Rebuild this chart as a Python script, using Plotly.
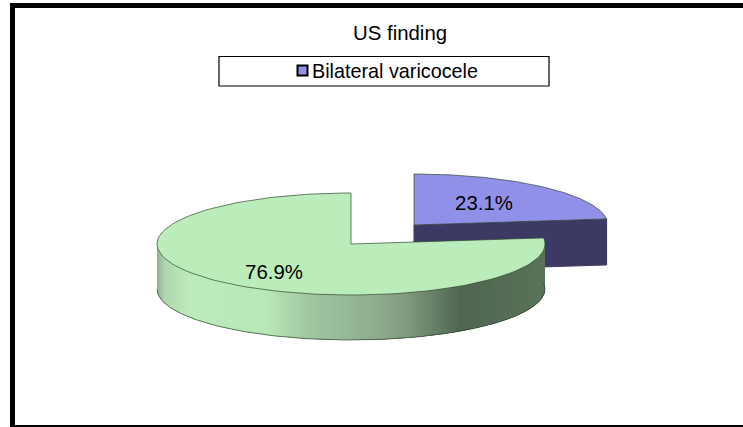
import math
import plotly.graph_objects as go

# ---- data ----
title_text = "US finding"
legend_label = "Bilateral varicocele"
slice_names = ["Bilateral varicocele", "Other"]
slice_values = [23.1, 76.9]
slice_labels = ["23.1%", "76.9%"]

# ---- style ----
BLUE_TOP, BLUE_SIDE = "#9090e8", "#3c3a64"
GREEN_TOP = "#bbedbb"
EDGE = "rgba(50,70,50,0.7)"
FONT = "Liberation Sans"
RX, RY, DEPTH = 194, 51, 45
GREEN_C = (351, 244)
BLUE_C = (414, 225)
# horizontal gradient for the rim of the large slice: (x, colour)
RIM_STOPS = [(157, (150, 175, 150)), (165, (176, 214, 176)), (190, (188, 236, 188)),
             (267, (184, 232, 184)), (307, (160, 200, 160)), (373, (143, 174, 143)),
             (407, (127, 154, 127)), (460, (79, 102, 80)), (545, (90, 115, 90))]


def rim_colour(x):
    for (x0, c0), (x1, c1) in zip(RIM_STOPS, RIM_STOPS[1:]):
        if x <= x1:
            t = max(0.0, (x - x0) / (x1 - x0))
            return "rgb(%d,%d,%d)" % tuple(round(a + (b - a) * t) for a, b in zip(c0, c1))
    return "rgb(%d,%d,%d)" % RIM_STOPS[-1][1]


def point(c, deg, dy=0):
    a = math.radians(deg)
    return c[0] + RX * math.sin(a), c[1] - RY * math.cos(a) + dy


def sector(c, d0, d1, n=120):
    pts = [c] + [point(c, d0 + (d1 - d0) * i / n) for i in range(n + 1)] + [c]
    return [p[0] for p in pts], [p[1] for p in pts]


def poly(xs, ys, fill, line=None, width=1):
    return go.Scatter(x=xs, y=ys, mode="lines", fill="toself", fillcolor=fill,
                      line=dict(color=line or fill, width=width),
                      hoverinfo="skip", showlegend=False)


split = slice_values[0] / sum(slice_values) * 360
fig = go.Figure()

# exploded slice: cut face, then top
p = point(BLUE_C, split)
fig.add_trace(poly([BLUE_C[0], p[0], p[0], BLUE_C[0], BLUE_C[0]],
                   [BLUE_C[1], p[1], p[1] + DEPTH + 1, BLUE_C[1] + DEPTH + 1, BLUE_C[1]], BLUE_SIDE))
xs, ys = sector(BLUE_C, 0, split)
fig.add_trace(poly(xs, ys, BLUE_TOP, EDGE))

# large slice: rim bands painted from left to right, each overlapping the
# area the next band covers so that anti-aliased joins never show through
steps = 220
start = split
end = 270.0
for i in range(steps):
    a0 = end - (end - start) * i / steps
    a1 = end - (end - start) * (i + 1) / steps
    ax = max(start, end - (end - start) * (i + 6) / steps)
    arc_pts = [point(GREEN_C, a0 + (ax - a0) * k / 6) for k in range(7)]
    rx = [q[0] for q in arc_pts]
    ry = [q[1] for q in arc_pts]
    fig.add_trace(poly(rx + rx[::-1] + rx[:1],
                       ry + [v + DEPTH for v in ry[::-1]] + ry[:1],
                       rim_colour(point(GREEN_C, (a0 + a1) / 2)[0]), width=0))
# rim outline
arc = [point(GREEN_C, start + (end - start) * i / 200, DEPTH) for i in range(201)]
fig.add_trace(go.Scatter(x=[q[0] for q in arc], y=[q[1] for q in arc], mode="lines",
                         line=dict(color=EDGE, width=1), hoverinfo="skip", showlegend=False))
xs, ys = sector(GREEN_C, split, 360)
fig.add_trace(poly(xs, ys, GREEN_TOP, EDGE))

# percentage labels
fig.add_trace(go.Scatter(x=[484, 274], y=[205, 274], mode="text", text=slice_labels,
                         textfont=dict(family=FONT, size=20.4, color="black"),
                         textposition="middle center", hoverinfo="skip", showlegend=False))

# legend swatch
fig.add_trace(go.Scatter(x=[302.5], y=[70.5], mode="markers",
                         marker=dict(symbol="square", size=10, color=BLUE_TOP,
                                     line=dict(color="black", width=2)),
                         name=legend_label, hoverinfo="skip", showlegend=False))


def bar(x0, y0, x1, y1):
    return dict(type="rect", xref="x", yref="y", x0=x0, y0=y0, x1=x1, y1=y1,
                fillcolor="black", line=dict(width=0), layer="above")


fig.update_layout(
    width=743, height=427, margin=dict(l=0, r=0, t=0, b=0),
    paper_bgcolor="white", plot_bgcolor="white", showlegend=False,
    xaxis=dict(range=[0, 743], visible=False, fixedrange=True),
    yaxis=dict(range=[427, 0], visible=False, fixedrange=True),
    shapes=[
        bar(10, 3, 15, 427), bar(10, 3, 743, 8), bar(10, 425, 743, 427),
        dict(type="rect", xref="x", yref="y", x0=219, y0=56.5, x1=549, y1=86,
             fillcolor="rgba(0,0,0,0)", line=dict(color="black", width=1.2), layer="below"),
    ],
    annotations=[
        dict(x=400, y=32.5, xref="x", yref="y", text=title_text, showarrow=False,
             font=dict(family=FONT, size=20.4, color="black")),
        dict(x=394.5, y=71, xref="x", yref="y", text=legend_label, showarrow=False,
             font=dict(family=FONT, size=19.8, color="black")),
    ],
)
fig.write_html("out.html", config={"displayModeBar": False},
               post_script="document.body.style.margin='0';document.documentElement.style.overflow='hidden';")
